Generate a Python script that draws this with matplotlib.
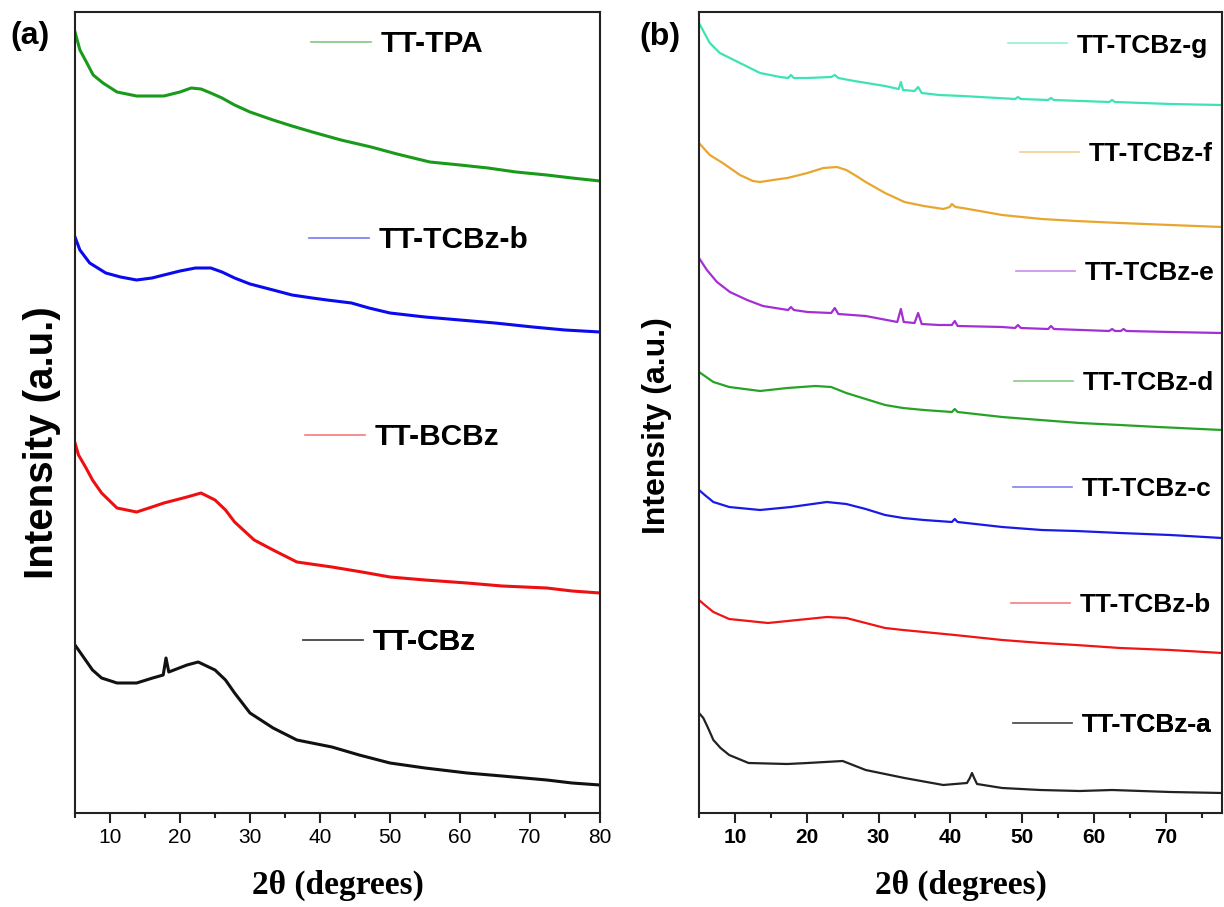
import matplotlib
matplotlib.use('Agg')
import matplotlib.pyplot as plt
from matplotlib.lines import Line2D
from matplotlib.ticker import MultipleLocator

plt.rcParams['font.family'] = ['Liberation Sans', 'DejaVu Sans']

# ---- panel (a) data, 2theta (deg) / intensity (a.u.)
tpa_x = [5, 5.7, 6.7, 7.6, 9, 11, 13.8, 17.7, 20, 21.6, 23, 24.4, 26, 27.8, 30, 33.3, 36, 38.9,
         43, 47.3, 51, 55.7, 60, 64, 68, 72.4, 76, 80]
tpa_y = [781, 763, 750, 738, 730, 721, 717, 717, 721, 725, 724, 720, 715, 708, 701, 693, 687, 681,
         673, 666, 659, 651, 648, 645, 641, 638, 635, 632]

tcbzb_a_x = [5, 5.7, 7.1, 9.4, 11.5, 13.8, 16, 17.7, 20, 22.2, 24.4, 26, 27.8, 30, 33.3, 36, 38.9,
             41, 44.5, 47, 50, 55, 60, 65, 70.4, 75, 80]
tcbzb_a_y = [576, 563, 550, 540, 536, 533, 535, 538, 542, 545, 545, 541, 535, 529, 523, 518, 515,
             513, 510, 505, 500, 496, 493, 490, 486, 483, 481]

bcbz_x = [5, 5.5, 6.5, 7.5, 8.8, 11, 13.8, 16, 17.7, 21, 23, 25, 26.5, 27.8, 30.6, 33.3, 36.7,
          41.7, 46, 50, 55, 61, 66, 72.4, 76, 80]
bcbz_y = [370, 358, 346, 333, 320, 305, 301, 306, 310, 316, 320, 313, 303, 291, 273, 263, 251,
          246, 241, 236, 233, 230, 227, 225, 222, 220]

cbz_x = [5, 6.5, 7.5, 8.8, 11, 13.8, 16.1, 17.6, 18, 18.4, 21, 22.6, 25, 26.5, 27.8, 30, 33.3,
         36.7, 41.7, 45.6, 50, 55, 61, 66, 72.4, 76, 80]
cbz_y = [168, 153, 143, 135, 130, 130, 135, 138, 155, 141, 148, 151, 143, 133, 120, 100, 85,
         73, 66, 58, 50, 45, 40, 37, 33, 30, 28]

# ---- panel (b) data
g_x = [5, 6.5, 7.9, 10.7, 13.5, 16.3, 17.4, 17.8, 18.2, 20.1, 23.4, 23.9, 24.4, 26.6, 30.9, 32.8,
       33.1, 33.4, 35.0, 35.5, 36.0, 38.4, 41.7, 49.0, 49.4, 49.8, 53.6, 54.0, 54.4, 62.1, 62.5,
       62.9, 70.6, 77.8]
g_y = [790, 770, 760, 750, 740, 736, 735, 738, 735, 735, 736, 738, 735, 732, 727, 724,
       731, 723, 722, 726, 720, 718, 717, 714, 716, 714, 713, 715, 713, 711, 713,
       711, 709, 708]

f_x = [5, 6.5, 8.3, 10.7, 12.5, 13.5, 15.3, 17.3, 20.1, 22.3, 24.2, 25.5, 26.9, 28.2, 30.9, 33.6,
       36.3, 39.0, 39.9, 40.2, 40.7, 41.7, 47.2, 52.7, 57.5, 63.6, 70.6, 77.8]
f_y = [670, 658, 650, 638, 632, 631, 633, 635, 640, 645, 646, 643, 637, 631, 620, 611,
       607, 604, 606, 609, 606, 605, 598, 594, 592, 590, 588, 586]

e_x = [5, 6.1, 7.5, 9.3, 11.7, 13.9, 16.5, 17.4, 17.8, 18.2, 20.1, 23.4, 23.9, 24.4, 28.2, 32.6,
       33.1, 33.5, 35.0, 35.5, 36.0, 38.4, 40.2, 40.6, 41.0, 47.2, 49.0, 49.4, 49.8, 53.6, 54.0,
       54.4, 62.1, 62.5, 62.9, 63.7, 64.1, 64.5, 70.6, 77.8]
e_y = [555, 543, 531, 521, 513, 507, 504, 503, 506, 503, 501, 500, 505, 499, 497, 491,
       504, 491, 490, 500, 489, 488, 488, 492, 487, 486, 485, 488, 485, 484, 487,
       484, 482, 484, 482, 482, 484, 482, 481, 480]

d_x = [5, 5.8, 7.0, 9.2, 13.5, 17.3, 21.2, 23.4, 25.5, 28.2, 30.9, 33.4, 36.3, 40.2, 40.6, 41.0,
       47.2, 52.5, 58.0, 63.6, 68.9, 77.8]
d_y = [441, 437, 431, 426, 422, 425, 427, 426, 420, 414, 408, 405, 403, 401, 404, 401,
       396, 393, 390, 388, 386, 383]

c_x = [5, 5.8, 7.0, 9.2, 13.5, 17.8, 22.8, 25.5, 28.2, 30.9, 33.4, 36.3, 40.2, 40.6, 41.0, 47.2,
       52.7, 57.5, 63.6, 70.6, 77.8]
c_y = [323, 318, 311, 306, 303, 306, 311, 309, 304, 298, 295, 293, 291, 294, 291, 286,
       283, 282, 280, 278, 275]

b_x = [5, 5.8, 7.0, 9.2, 14.6, 20.1, 22.8, 25.5, 28.2, 30.9, 33.4, 36.3, 40.6, 47.2, 52.7, 57.5,
       63.6, 70.6, 77.8]
b_y = [213, 208, 201, 194, 190, 194, 196, 195, 190, 185, 183, 181, 178, 173, 170, 168,
       165, 163, 160]

a_x = [5, 5.6, 6.2, 7.0, 8.0, 9.2, 11.9, 17.3, 20.1, 25.0, 28.2, 33.6, 39.0, 42.3, 42.7, 43.0,
       43.3, 43.7, 47.2, 52.5, 58.0, 62.5, 70.6, 77.8]
a_y = [100, 95, 86, 73, 65, 58, 50, 49, 50, 52, 43, 35, 28, 30, 35, 40,
       35, 29, 25, 23, 22, 23, 21, 20]

labels_a = ['TT-TPA', 'TT-TCBz-b', 'TT-BCBz', 'TT-CBz']
labels_b = ['TT-TCBz-g', 'TT-TCBz-f', 'TT-TCBz-e', 'TT-TCBz-d', 'TT-TCBz-c', 'TT-TCBz-b', 'TT-TCBz-a']
ticks_a = [10, 20, 30, 40, 50, 60, 70, 80]
ticks_b = [10, 20, 30, 40, 50, 60, 70]

colors_a = ['#1a9a1a', '#0a0aee', '#ee1010', '#111111']
colors_b = ['#3fe3b3', '#e8a62e', '#a32fd4', '#26a326', '#1a1ae6', '#f01414', '#222222']

series_a = [(tpa_x, tpa_y), (tcbzb_a_x, tcbzb_a_y), (bcbz_x, bcbz_y), (cbz_x, cbz_y)]
series_b = [(g_x, g_y), (f_x, f_y), (e_x, e_y), (d_x, d_y), (c_x, c_y), (b_x, b_y), (a_x, a_y)]

# label anchor (axes fraction) for each trace
pos_a = [(0.4495, 0.960), (0.4457, 0.715), (0.438, 0.469), (0.434, 0.2135)]
pos_b = [(0.591, 0.958), (0.614, 0.823), (0.606, 0.674), (0.602, 0.537),
         (0.600, 0.4045), (0.597, 0.2597), (0.600, 0.110)]


def add_label(ax, color, text, xy, fs, hl, tp):
    h = Line2D([], [], color=color, lw=1.2, alpha=0.55)
    leg = ax.legend([h], [text], loc='center left', bbox_to_anchor=xy, frameon=False,
                    borderpad=0, borderaxespad=0, handlelength=hl, handletextpad=tp,
                    prop={'family': 'Liberation Sans', 'weight': 'bold', 'size': fs})
    ax.add_artist(leg)


def style_axes(ax, xmax, ticks, bold, ylab_fs, ylab_xy):
    ax.set_xlim(5, xmax)
    ax.set_ylim(0, 801)
    ax.set_yticks([])
    ax.set_xticks(ticks)
    ax.set_xticklabels([str(t) for t in ticks], fontweight='bold' if bold else 'normal')
    ax.xaxis.set_minor_locator(MultipleLocator(5))
    ax.tick_params(axis='x', which='major', length=7, width=1.5, labelsize=15, pad=4,
                   color='#222222')
    ax.tick_params(axis='x', which='minor', length=3.5, width=1.5, color='#222222')
    for s in ax.spines.values():
        s.set_linewidth(1.5)
        s.set_color('#222222')
    ax.set_ylabel('Intensity (a.u.)', fontsize=ylab_fs, fontweight='bold', va='center')
    ax.yaxis.set_label_coords(*ylab_xy)
    ax.set_xlabel('2θ (degrees)', family='Liberation Serif', fontsize=24,
                  fontweight='bold', va='center')
    ax.xaxis.set_label_coords(0.5, -0.09)


fig = plt.figure(figsize=(12.24, 9.07), dpi=100)
ax1 = fig.add_axes([75 / 1224, 1 - 813 / 907, 525 / 1224, 801 / 907])
ax2 = fig.add_axes([699 / 1224, 1 - 813 / 907, 523 / 1224, 801 / 907])

for (x, y), c, lab, p in zip(series_a, colors_a, labels_a, pos_a):
    ax1.plot(x, y, color=c, lw=2.2)
    add_label(ax1, c, lab, p, 21.5, 2.0, 0.34)

for (x, y), c, lab, p in zip(series_b, colors_b, labels_b, pos_b):
    ax2.plot(x, y, color=c, lw=1.6)
    add_label(ax2, c, lab, p, 19, 2.23, 0.38)

style_axes(ax1, 80, ticks_a, False, 29, (-0.063, 0.462))
style_axes(ax2, 77.8, ticks_b, True, 23, (-0.080, 0.484))

fig.text(30 / 1224, 1 - 36 / 907, '(a)', ha='center', va='center', fontsize=23, fontweight='bold')
fig.text(660 / 1224, 1 - 37 / 907, '(b)', ha='center', va='center', fontsize=23, fontweight='bold')

fig.savefig('out.png', dpi=100)
